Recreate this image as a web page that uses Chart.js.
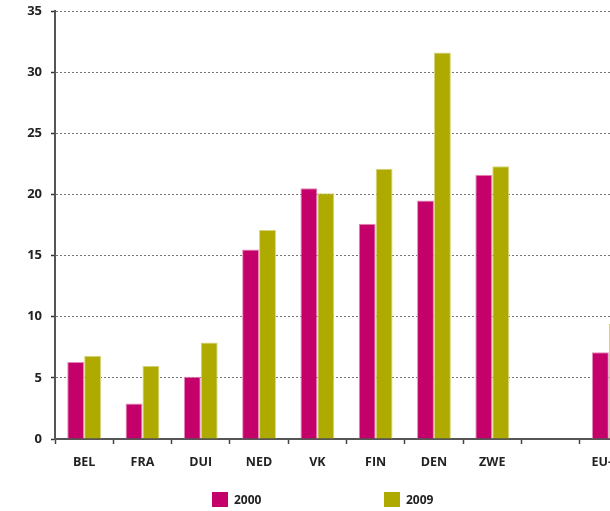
<!DOCTYPE html>
<html>
<head>
<meta charset="utf-8">
<script src="https://cdn.jsdelivr.net/npm/chart.js@4/dist/chart.umd.min.js"></script>
<style>
  html, body { margin: 0; padding: 0; overflow: hidden; background: #fff; }
  #wrap { position: relative; width: 640px; height: 511px; }
  .legend { position: absolute; top: 492px; font: bold 12px "Open Sans", sans-serif; color: #222; }
  .legend span.box { position: absolute; top: 0; width: 16px; height: 15px; }
  .legend span.txt { position: absolute; top: -1px; white-space: nowrap; line-height: 17px; }
</style>
</head>
<body>
<div id="wrap">
  <canvas id="myChart"></canvas>
  <div class="legend" style="left:212px"><span class="box" style="background:#c4006a"></span><span class="txt" style="left:22px">2000</span></div>
  <div class="legend" style="left:384px"><span class="box" style="background:#aeaa00"></span><span class="txt" style="left:22px">2009</span></div>
</div>
<script>
  const labels = ['BEL', 'FRA', 'DUI', 'NED', 'VK', 'FIN', 'DEN', 'ZWE', '', 'EU-27'];
  const values2000 = [6.3, 2.9, 5.1, 15.5, 20.5, 17.6, 19.5, 21.6, null, 7.1];
  const values2009 = [6.8, 6.0, 7.9, 17.1, 20.1, 22.1, 31.6, 22.3, null, 9.4];
  const yTicks = [0, 5, 10, 15, 20, 25, 30, 35];

  const data = {
    labels: labels,
    datasets: [{
      label: '2000',
      data: values2000,
      backgroundColor: '#c4006a',
      borderColor: '#e48ab8',
      borderWidth: 1,
      borderSkipped: 'bottom'
    }, {
      label: '2009',
      data: values2009,
      backgroundColor: '#aeaa00',
      borderColor: '#d6d47a',
      borderWidth: 1,
      borderSkipped: 'bottom'
    }]
  };

  const config = {
    type: 'bar',
    data: data,
    options: {
      responsive: true,
      maintainAspectRatio: false,
      animation: false,
      categoryPercentage: 0.58,
      barPercentage: 1,
      layout: {
        padding: { top: 11, right: 2, bottom: 42, left: 0 }
      },
      plugins: {
        legend: { display: false },
        tooltip: { enabled: false }
      },
      scales: {
        x: {
          afterFit: function(scale) { scale.height = 30; },
          grid: {
            display: true,
            drawOnChartArea: false,
            tickLength: 5,
            tickColor: '#444',
            tickWidth: 1.5
          },
          border: { color: '#555', width: 2 },
          ticks: {
            autoSkip: false,
            maxRotation: 0,
            padding: 11,
            color: '#222',
            font: { family: 'Open Sans', weight: 'bold', size: 12.5 }
          }
        },
        y: {
          min: 0,
          max: 35,
          afterFit: function(scale) {
            scale.width = 55;
            scale.paddingTop = 0;
            scale.paddingBottom = 0;
          },
          afterBuildTicks: function(scale) {
            scale.ticks = yTicks.map(function(v) { return { value: v }; });
          },
          grid: {
            color: '#777',
            lineWidth: 1,
            tickLength: 4,
            tickColor: '#333',
            tickWidth: 1.5
          },
          border: { color: '#555', width: 2, dash: [2, 2] },
          ticks: {
            padding: 9,
            color: '#222',
            font: { family: 'Open Sans', weight: 'bold', size: 13 }
          }
        }
      }
    }
  };

  const myChart = new Chart(document.getElementById('myChart'), config);
</script>
</body>
</html>
